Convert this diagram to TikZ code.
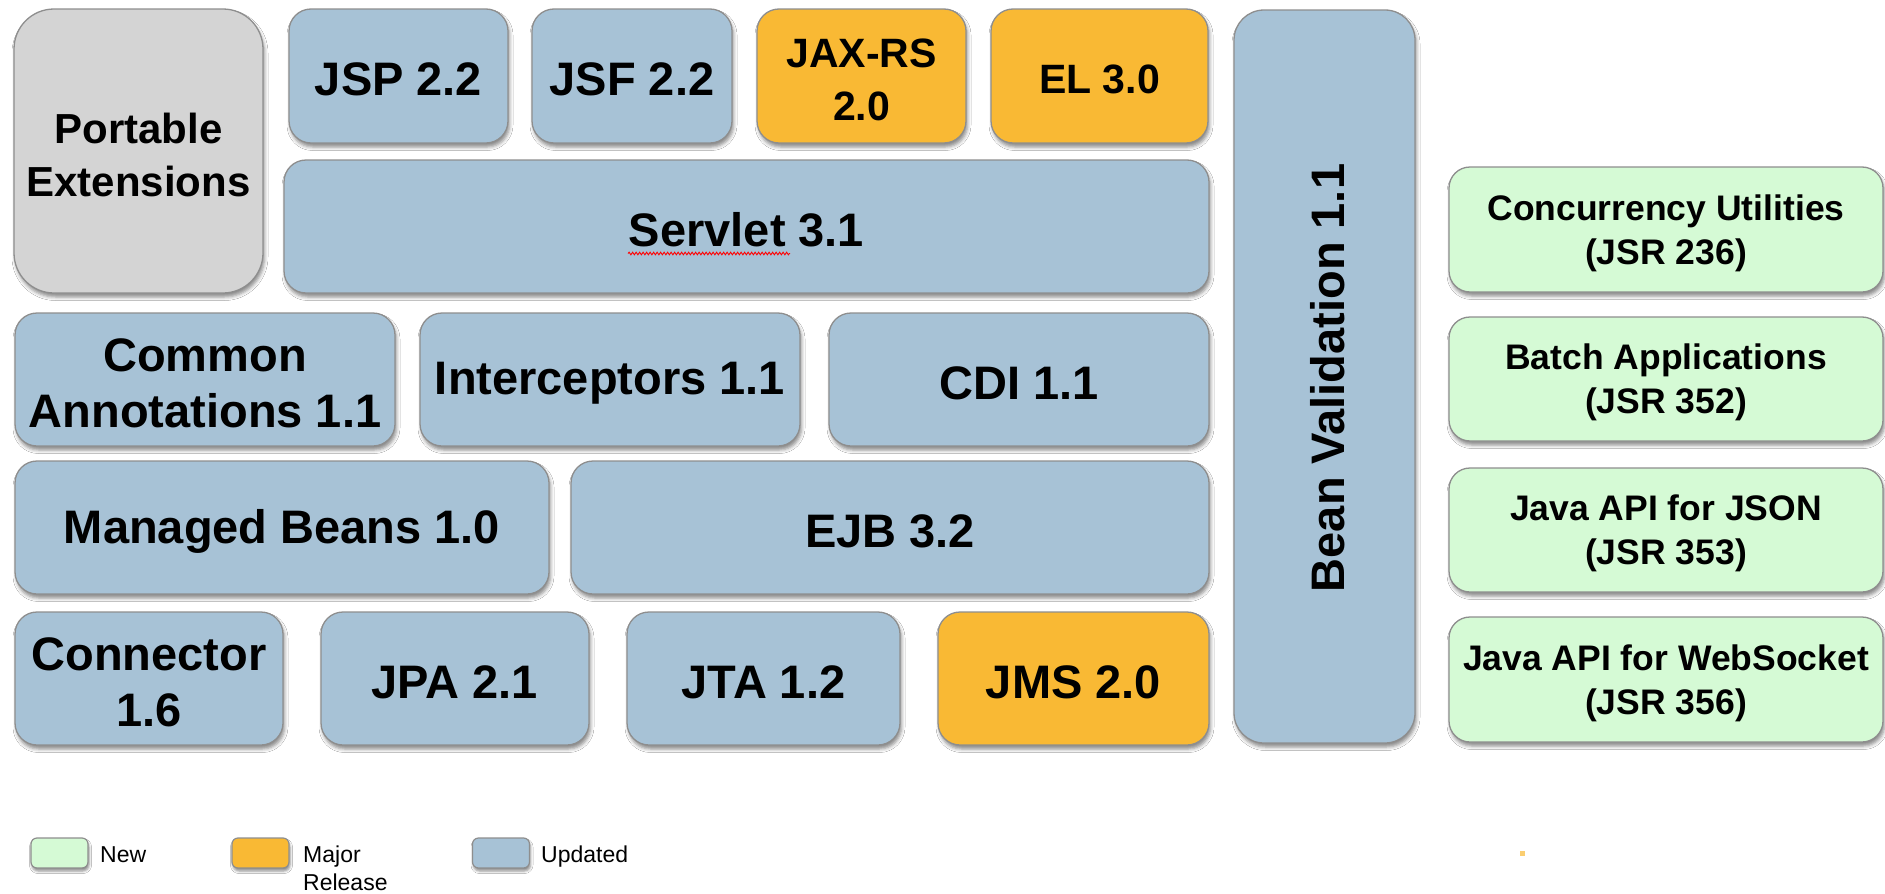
\documentclass[tikz,border=0pt]{standalone}
\usepackage{fontspec}
\setmainfont{Liberation Sans}
\usetikzlibrary{shadows,shadows.blur,decorations.pathmorphing}
\definecolor{updblue}{HTML}{A7C2D6}
\definecolor{majorange}{HTML}{F9B934}
\definecolor{newgreen}{HTML}{D5FAD5}
\definecolor{extgray}{HTML}{D4D4D4}
\definecolor{bordergray}{HTML}{8E8E8E}
\tikzset{
  blk/.style={draw=bordergray, line width=1.3pt, rounded corners=22pt, inner sep=0pt,
    blur shadow={shadow xshift=1.5pt, shadow yshift=-4pt, shadow blur radius=3.5pt, shadow opacity=45}},
  upd/.style={blk, fill=updblue},
  maj/.style={blk, fill=majorange},
  newb/.style={blk, fill=newgreen, rounded corners=21pt},
  ext/.style={blk, fill=extgray, rounded corners=40pt},
  txt/.style={inner sep=0pt, align=center, font=\fontsize{47}{56}\selectfont\bfseries},
  txtsmall/.style={font=\fontsize{41}{53}\selectfont\bfseries},
  txtext/.style={font=\fontsize{42}{53}\selectfont\bfseries},
  txtnew/.style={font=\fontsize{35.5}{44}\selectfont\bfseries},
  legbox/.style={draw=bordergray, line width=1.2pt, rounded corners=6pt, inner sep=0pt,
    minimum width=57pt, minimum height=30pt,
    blur shadow={shadow xshift=1pt, shadow yshift=-3pt, shadow blur radius=2.5pt, shadow opacity=45}},
  legtext/.style={inner sep=0pt, anchor=base west, align=left, font=\fontsize{23}{28}\selectfont},
}
% #1 extra text options, #2 box options, #3 name, #4 centre, #5 text
\newcommand\jbox[5][]{%
  \node[#2] (#3) at (#4) {};
  \node[txt, #1] (#3-t) at ([yshift=-3.5pt]#3.center) {#5};}
\begin{document}
\begin{tikzpicture}[x=1pt,y=-1pt]
\fill[white] (0,0) rectangle (1885,894);
\useasboundingbox (0,0) rectangle (1885,894);

% top row
\jbox[txtext]{ext, minimum width=249pt, minimum height=284pt}{pe}{138.5,151}{Portable\\Extensions}
\jbox{upd, minimum width=219pt, minimum height=134pt}{jsp}{398.5,76}{JSP 2.2}
\jbox{upd, minimum width=200pt, minimum height=134pt}{jsf}{632,76}{JSF 2.2}
\jbox[txtsmall]{maj, minimum width=209pt, minimum height=134pt}{jax}{861.5,76}{JAX-RS\\2.0}
\jbox[txtsmall]{maj, minimum width=217pt, minimum height=134pt}{el}{1099.5,76}{EL 3.0}
\jbox{upd, minimum width=925pt, minimum height=133pt}{servlet}{746.5,226.5}{Servlet 3.1}
\draw[red, line width=0.9pt, decorate, decoration={snake, amplitude=1.3pt, segment length=3.5pt}]
  (628,253.5) -- (790,253.5);

% bean validation
\node[upd, rounded corners=30pt, minimum width=181pt, minimum height=733pt] (bean) at (1324.5,376.5) {};
\node[txt] (bean-t) at ([xshift=3pt, yshift=-1.5pt]bean.center) {\rotatebox{90}{Bean Validation 1.1}};

% middle rows
\jbox{upd, minimum width=380pt, minimum height=133pt}{ca}{205,379.5}{Common\\Annotations 1.1}
\jbox{upd, minimum width=380pt, minimum height=133pt}{int}{610,379.5}{Interceptors 1.1}
\jbox{upd, minimum width=380pt, minimum height=133pt}{cdi}{1019,379.5}{CDI 1.1}
\jbox{upd, minimum width=534pt, minimum height=133pt}{mb}{282,527.5}{Managed Beans 1.0}
\jbox{upd, minimum width=638pt, minimum height=133pt}{ejb}{890,527.5}{EJB 3.2}

% bottom row
\jbox{upd, minimum width=268pt, minimum height=133pt}{con}{149,678.5}{Connector\\1.6}
\jbox{upd, minimum width=268pt, minimum height=133pt}{jpa}{455,678.5}{JPA 2.1}
\jbox{upd, minimum width=273pt, minimum height=133pt}{jta}{763.5,678.5}{JTA 1.2}
\jbox{maj, minimum width=271pt, minimum height=133pt}{jms}{1073.5,678.5}{JMS 2.0}

% new APIs
\jbox[txtnew]{newb, minimum width=434pt, minimum height=125pt}{cu}{1666,229.5}{Concurrency Utilities\\(JSR 236)}
\jbox[txtnew]{newb, minimum width=434pt, minimum height=124pt}{ba}{1666,379}{Batch Applications\\(JSR 352)}
\jbox[txtnew]{newb, minimum width=434pt, minimum height=124pt}{json}{1666,530}{Java API for JSON\\(JSR 353)}
\jbox[txtnew]{newb, minimum width=434pt, minimum height=125pt}{ws}{1666,679.5}{Java API for WebSocket\\(JSR 356)}

% legend
\node[legbox, fill=newgreen] (lnew) at (59.5,853) {};
\node[legtext] (tnew) at (100,862) {New};
\node[legbox, fill=majorange] (lmaj) at (260.5,853) {};
\node[legtext] (tmaj) at (303,890) {Major\\Release};
\node[legbox, fill=updblue] (lupd) at (501,853) {};
\node[legtext] (tupd) at (541,862) {Updated};

% stray mark
\fill[majorange!70] (1520,851) rectangle (1525,856);
\end{tikzpicture}
\end{document}
